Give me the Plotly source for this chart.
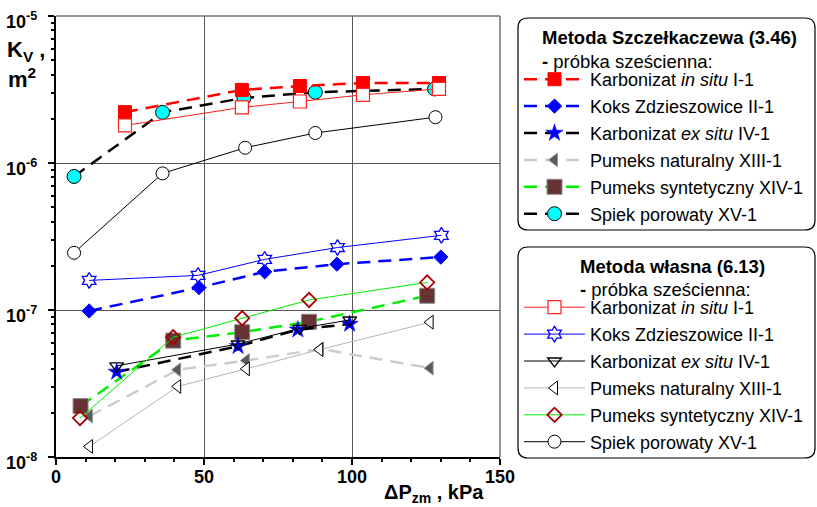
import plotly.graph_objects as go

# ---- data ----
# Metoda Szczełkaczewa (3.46)
s_insitu_x = [23.3, 62.8, 82.4, 103.7, 129.4]
s_insitu_y = [2.22e-6, 3.14e-6, 3.34e-6, 3.50e-6, 3.50e-6]
s_koks_x = [11.2, 48.3, 70.5, 94.9, 130.0]
s_koks_y = [9.85e-8, 1.42e-7, 1.82e-7, 2.05e-7, 2.29e-7]
s_exsitu_x = [20.5, 61.5, 81.7, 99.2]
s_exsitu_y = [3.79e-8, 5.67e-8, 7.34e-8, 8.03e-8]
s_pnat_x = [11.3, 41.1, 64.3, 89.3, 126.4]
s_pnat_y = [1.90e-8, 3.92e-8, 4.53e-8, 5.44e-8, 4.02e-8]
s_psyn_x = [8.3, 39.6, 62.9, 85.5, 125.4]
s_psyn_y = [2.22e-8, 6.19e-8, 7.06e-8, 8.32e-8, 1.25e-7]
s_spiek_x = [6.1, 36.0, 63.5, 87.6, 127.9]
s_spiek_y = [8.1e-7, 2.21e-6, 2.77e-6, 3.03e-6, 3.19e-6]

# Metoda własna (6.13)
w_insitu_x = [23.3, 62.8, 82.4, 103.7, 129.4]
w_insitu_y = [1.80e-6, 2.39e-6, 2.62e-6, 2.91e-6, 3.19e-6]
w_koks_x = [11.2, 48.0, 70.5, 95.1, 130.2]
w_koks_y = [1.59e-7, 1.72e-7, 2.21e-7, 2.66e-7, 3.22e-7]
w_exsitu_x = [20.5, 61.5, 82.3, 99.2]
w_exsitu_y = [4.17e-8, 5.87e-8, 7.50e-8, 8.55e-8]
w_pnat_x = [11.3, 41.1, 64.3, 89.1, 126.4]
w_pnat_y = [1.18e-8, 3.02e-8, 3.98e-8, 5.38e-8, 8.26e-8]
w_psyn_x = [8.1, 39.6, 62.9, 85.5, 125.4]
w_psyn_y = [1.84e-8, 6.53e-8, 8.79e-8, 1.17e-7, 1.54e-7]
w_spiek_x = [6.1, 36.0, 63.9, 87.6, 128.2]
w_spiek_y = [2.45e-7, 8.5e-7, 1.27e-6, 1.60e-6, 2.05e-6]

names = ["Karbonizat <i>in situ</i> I-1", "Koks Zdzieszowice II-1",
         "Karbonizat <i>ex situ</i> IV-1", "Pumeks naturalny XIII-1",
         "Pumeks syntetyczny XIV-1", "Spiek porowaty XV-1"]

x_ticks = [0, 50, 100, 150]
y_ticks = [1e-8, 1e-7, 1e-6, 1e-5]
y_tick_exp = [-8, -7, -6, -5]
y_tick_text = [f"<b>10<sup>{e}</sup></b>" for e in y_tick_exp]

FONT = "Liberation Sans, Arial, sans-serif"
DASH = "13px,8px"

fig = go.Figure()

def add(x, y, name, rank, legend, line, marker):
    fig.add_trace(go.Scatter(
        x=x, y=y, name=name, mode="lines+markers", line=line, marker=marker,
        legend=legend, legendgroup=f"{legend}{rank}", legendrank=rank,
        hoverinfo="skip"))

# Szczełkaczewa series (dashed, filled markers)
add(s_spiek_x, s_spiek_y, names[5], 6, "legend",
    dict(color="black", width=2.5, dash=DASH),
    dict(symbol="circle", size=14, color="#00ffff", line=dict(color="black", width=1)))
add(s_insitu_x, s_insitu_y, names[0], 1, "legend",
    dict(color="#ff0000", width=2.5, dash=DASH),
    dict(symbol="square", size=13, color="#ff0000", line=dict(color="#ff0000", width=1)))
add(s_koks_x, s_koks_y, names[1], 2, "legend",
    dict(color="#0000ff", width=2.5, dash=DASH),
    dict(symbol="diamond", size=11, color="#0000ff", line=dict(color="#0000ff", width=1)))
add(s_pnat_x, s_pnat_y, names[3], 4, "legend",
    dict(color="#cccccc", width=2.5, dash=DASH),
    dict(symbol="triangle-left", size=12, color="#5a5a5a", line=dict(color="#999999", width=1)))
add(s_psyn_x, s_psyn_y, names[4], 5, "legend",
    dict(color="#00ee00", width=2.5, dash=DASH),
    dict(symbol="square", size=15, color="#663333", line=dict(color="#8a8a8a", width=1)))
add(s_exsitu_x, s_exsitu_y, names[2], 3, "legend",
    dict(color="black", width=2.5, dash=DASH),
    dict(symbol="star", size=13, color="#0000ff", line=dict(color="#0000ff", width=0.5)))

# Własna series (solid thin, open markers)
add(w_insitu_x, w_insitu_y, names[0], 1, "legend2",
    dict(color="#ff2020", width=1),
    dict(symbol="square", size=13, color="white", line=dict(color="#ff2020", width=1.2)))
add(w_koks_x, w_koks_y, names[1], 2, "legend2",
    dict(color="#0000ff", width=1),
    dict(symbol="hexagram-open", size=12, color="#0000ff", line=dict(color="#0000ff", width=1.3)))
add(w_exsitu_x, w_exsitu_y, names[2], 3, "legend2",
    dict(color="black", width=1),
    dict(symbol="triangle-down-open", size=12, color="black", line=dict(color="black", width=1.3)))
add(w_pnat_x, w_pnat_y, names[3], 4, "legend2",
    dict(color="#b4b4b4", width=1),
    dict(symbol="triangle-left", size=12, color="white", line=dict(color="black", width=1)))
add(w_psyn_x, w_psyn_y, names[4], 5, "legend2",
    dict(color="#00ee00", width=1),
    dict(symbol="diamond-open", size=11, color="#aa0000", line=dict(color="#aa0000", width=1.8)))
add(w_spiek_x, w_spiek_y, names[5], 6, "legend2",
    dict(color="black", width=1),
    dict(symbol="circle", size=13, color="white", line=dict(color="black", width=1)))

# plot area geometry (pixels) for placing legend boxes
L, R, T, B = 56, 500, 16, 457
W, H = R - L, B - T
def px(xp):
    return (xp - L) / W
def py(yp):
    return (B - yp) / H

def rounded(x0, y0, x1, y1, r=10):
    rx, ry = r / W, r / H
    a, b, c, d = px(x0), py(y1), px(x1), py(y0)
    return (f"M{a+rx},{d} L{c-rx},{d} Q{c},{d} {c},{d-ry} L{c},{b+ry} Q{c},{b} {c-rx},{b} "
            f"L{a+rx},{b} Q{a},{b} {a},{b+ry} L{a},{d-ry} Q{a},{d} {a+rx},{d} Z")

shapes = [
    dict(type="path", xref="paper", yref="paper", path=rounded(518, 18, 815, 230),
         line=dict(color="black", width=1.2), layer="below"),
    dict(type="path", xref="paper", yref="paper", path=rounded(518, 247, 815, 458),
         line=dict(color="black", width=1.2), layer="below"),
    dict(type="line", xref="paper", yref="paper", x0=0, x1=1, y0=1, y1=1,
         line=dict(color="#707070", width=1.5)),
    dict(type="line", xref="paper", yref="paper", x0=1, x1=1, y0=0, y1=1,
         line=dict(color="#707070", width=1.5)),
]

TF = dict(size=18.5, family=FONT, color="black")
annotations = [
    dict(text="<b>Metoda Szczełkaczewa (3.46)</b>", x=px(540), y=py(38), xref="paper", yref="paper",
         xanchor="left", yanchor="middle", showarrow=False, font=TF),
    dict(text="<b>-</b> próbka sześcienna:", x=px(540), y=py(61), xref="paper", yref="paper",
         xanchor="left", yanchor="middle", showarrow=False, font=TF),
    dict(text="<b>Metoda własna (6.13)</b>", x=px(578), y=py(266), xref="paper", yref="paper",
         xanchor="left", yanchor="middle", showarrow=False, font=TF),
    dict(text="<b>-</b> próbka sześcienna:", x=px(578), y=py(289), xref="paper", yref="paper",
         xanchor="left", yanchor="middle", showarrow=False, font=TF),
    dict(text="<b>K<sub>V</sub> ,</b>", x=px(5), y=py(51), xref="paper", yref="paper",
         xanchor="left", yanchor="middle", showarrow=False,
         font=dict(size=22, family=FONT, color="black")),
    dict(text="<b>m<sup>2</sup></b>", x=px(6), y=py(78), xref="paper", yref="paper",
         xanchor="left", yanchor="middle", showarrow=False,
         font=dict(size=22, family=FONT, color="black")),
    dict(text="<b>ΔP<sub>zm</sub> , kPa</b>", x=px(382), y=py(493), xref="paper", yref="paper",
         xanchor="left", yanchor="middle", showarrow=False, font=dict(size=20, family=FONT, color="black")),
]
# y tick labels placed at the axis' tick values (log axis -> exponent units)
for e, txt in zip(y_tick_exp, y_tick_text):
    annotations.append(dict(text=txt, x=px(39), y=e, xref="paper", yref="y",
                            xanchor="right", yanchor="middle", yshift=-4, showarrow=False,
                            font=dict(size=18, family=FONT, color="black")))

minor_y = [m * 10.0 ** e for e in (-8, -7, -6) for m in range(2, 10)]

legend_common = dict(
    xref="paper", yref="paper", xanchor="left", yanchor="top",
    bgcolor="rgba(0,0,0,0)", borderwidth=0, traceorder="grouped",
    tracegroupgap=0.5, itemwidth=61, font=dict(size=18, family=FONT, color="black"),
    itemclick=False, itemdoubleclick=False,
)

fig.update_layout(
    width=817, height=507,
    margin=dict(l=L, r=817 - R, t=T, b=507 - B, autoexpand=False),
    paper_bgcolor="white", plot_bgcolor="white",
    font=dict(family=FONT, color="black"),
    showlegend=True,
    legend=dict(x=px(519), y=py(61), **legend_common),
    legend2=dict(x=px(519), y=py(289), **legend_common),
    shapes=shapes, annotations=annotations,
    xaxis=dict(range=[0, 150], tickvals=x_ticks, ticktext=[f"<b>{v}</b>" for v in x_ticks],
               showgrid=True, gridcolor="#555555", gridwidth=1,
               showline=True, linecolor="black", linewidth=2,
               ticks="outside", ticklen=6, tickwidth=1.5, tickcolor="black",
               tickfont=dict(size=18, family=FONT, color="black"),
               ticklabelstandoff=-4,
               minor=dict(tickvals=list(range(10, 150, 10)), ticks="outside", ticklen=3,
                          tickcolor="black", showgrid=False),
               zeroline=False, fixedrange=True, automargin=False),
    yaxis=dict(type="log", range=[-8, -5], tickvals=y_ticks, showticklabels=False,
               showgrid=True, gridcolor="#555555", gridwidth=1,
               showline=True, linecolor="black", linewidth=2,
               ticks="outside", ticklen=6, tickwidth=1.5, tickcolor="black",
               minor=dict(tickvals=minor_y, ticks="outside", ticklen=3,
                          tickcolor="black", showgrid=False),
               zeroline=False, fixedrange=True, automargin=False),
)

fig.write_html("out.html", post_script="document.body.style.margin='0';",
               config={"displayModeBar": False})
